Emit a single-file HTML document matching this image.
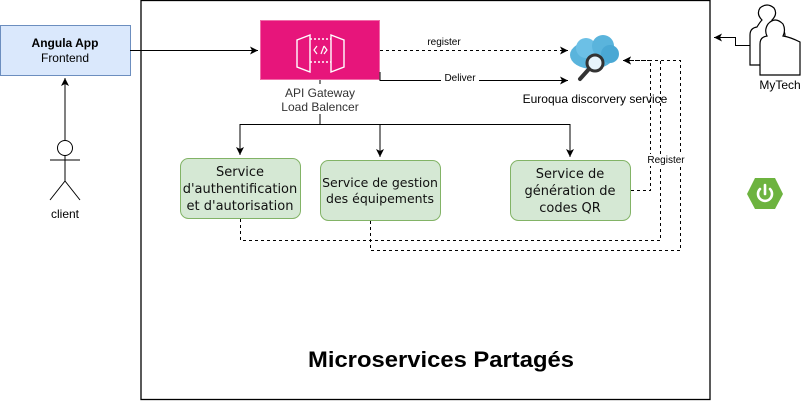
<!DOCTYPE html>
<html><head><meta charset="utf-8"><style>
html,body{margin:0;padding:0;background:#fff;}
svg{display:block;}
.s{font-family:"Liberation Sans",sans-serif;}
.u{font-family:"DejaVu Sans","Liberation Sans",sans-serif;}
</style></head><body>
<svg width="811" height="401" viewBox="0 0 811 401" xmlns="http://www.w3.org/2000/svg">
<defs>
<marker id="a" markerWidth="10" markerHeight="10" refX="9" refY="5" orient="auto" markerUnits="userSpaceOnUse"><path d="M1,1 L9,5 L1,9 L3,5 Z" fill="#000"/></marker>
</defs>
<rect x="141" y="0.5" width="569" height="399" fill="#fff" stroke="#000" stroke-width="1.3"/>
<!-- Angula -->
<rect x="0.5" y="25.5" width="130" height="50" fill="#dae8fc" stroke="#6c8ebf"/>
<text x="65" y="47" text-anchor="middle" class="s" font-size="12" font-weight="bold">Angula App</text>
<text x="65" y="62" text-anchor="middle" class="s" font-size="12">Frontend</text>
<line x1="130" y1="50.5" x2="258" y2="50.5" stroke="#000" marker-end="url(#a)"/>
<!-- client -->
<line x1="65" y1="140" x2="65" y2="78" stroke="#000" marker-end="url(#a)"/>
<circle cx="65" cy="148" r="7.5" fill="#fff" stroke="#000"/>
<line x1="65" y1="155" x2="65" y2="181" stroke="#000"/>
<line x1="50" y1="160" x2="80" y2="160" stroke="#000"/>
<path d="M50,200 L65,181 L80,200" fill="none" stroke="#000"/>
<text x="65" y="218" text-anchor="middle" class="s" font-size="12">client</text>
<!-- Gateway -->
<rect x="260.5" y="20.5" width="119" height="59" fill="#e7157b" stroke="#f06ba8"/>
<g fill="none" stroke="#fff" stroke-width="1.4">
<path d="M297,40 L310,35 L310,72 L297,67 Z"/>
<path d="M344,40 L331,35 L331,72 L344,67 Z"/>
<path d="M310,39 L331,39 M310,62 L331,62" stroke-dasharray="2,2"/>
<path d="M317,46 L314,50 L317,54 M324,46 L321,54 M324,46 L327,50 L324,54" stroke-width="1.2"/>
</g>
<text x="320" y="97" text-anchor="middle" class="s" font-size="12" fill="#333">API Gateway</text>
<text x="320" y="111" text-anchor="middle" class="s" font-size="12" fill="#333">Load Balencer</text>
<line x1="320" y1="80" x2="320" y2="84" stroke="#000"/>
<line x1="320" y1="114" x2="320" y2="124" stroke="#000"/>
<!-- register / deliver -->
<line x1="380" y1="50.5" x2="568" y2="50.5" stroke="#000" stroke-dasharray="3,3" marker-end="url(#a)"/>
<text x="444" y="45" text-anchor="middle" class="s" font-size="10">register</text>
<path d="M380,72 L380,80.5 L568,80.5" fill="none" stroke="#000" marker-end="url(#a)"/>
<rect x="441" y="72" width="38" height="12" fill="#fff"/>
<text x="460" y="81" text-anchor="middle" class="s" font-size="10">Deliver</text>
<!-- cloud -->
<g>
<ellipse cx="592" cy="55" rx="22" ry="14" fill="#5ab4dc"/>
<circle cx="586" cy="48" r="10" fill="#6cc0e6"/>
<circle cx="603" cy="46" r="11" fill="#5ab4dc"/>
<circle cx="610" cy="54" r="9" fill="#4aa8d4"/>
<circle cx="595" cy="63" r="8" fill="#e8f4fb" stroke="#333" stroke-width="3"/>
<line x1="589" y1="69" x2="580" y2="79" stroke="#333" stroke-width="4" stroke-linecap="round"/>
</g>
<text x="595" y="103" text-anchor="middle" class="s" font-size="12">Euroqua discorvery service</text>
<!-- distribution -->
<path d="M320,124.5 L240,124.5 L240,155" fill="none" stroke="#000" marker-end="url(#a)"/>
<path d="M320,124.5 L570,124.5 L570,157" fill="none" stroke="#000" marker-end="url(#a)"/>
<line x1="380" y1="124" x2="380" y2="157" stroke="#000" marker-end="url(#a)"/>
<!-- services -->
<g class="u" font-size="13" text-anchor="middle" fill="#111">
<rect x="180.5" y="158.5" width="120" height="60" rx="8" fill="#d5e8d4" stroke="#82b366"/>
<text x="240" y="176">Service</text>
<text x="240" y="193">d'authentification</text>
<text x="240" y="210">et d'autorisation</text>
<rect x="320.5" y="160.5" width="120" height="60" rx="8" fill="#d5e8d4" stroke="#82b366"/>
<text x="380" y="187" font-size="12.5">Service de gestion</text>
<text x="380" y="203" font-size="12.5">des équipements</text>
<rect x="510.5" y="160.5" width="120" height="60" rx="8" fill="#d5e8d4" stroke="#82b366"/>
<text x="570" y="178">Service de</text>
<text x="570" y="195">génération de</text>
<text x="570" y="212">codes QR</text>
</g>
<!-- dashed registers -->
<g fill="none" stroke="#000" stroke-dasharray="3,3">
<path d="M631,190.5 L650.5,190.5 L650.5,60.5 L623,60.5" marker-end="url(#a)"/>
<path d="M240.5,219 L240.5,240.5 L660.5,240.5 L660.5,60.5 L623,60.5"/>
<path d="M370.5,221 L370.5,250.5 L680.5,250.5 L680.5,60.5 L623,60.5" marker-end="url(#a)"/>
</g>
<rect x="646" y="154" width="40" height="12" fill="#fff"/>
<text x="666" y="163" text-anchor="middle" class="s" font-size="10">Register</text>
<!-- MyTech -->
<g fill="#fff" stroke="#000" stroke-width="1.2">
<path d="M750,65 L750,35 Q750,28 757,27 Q760,22 762,20 Q756,14 760,8 Q767,2 774,8 Q778,14 772,20 Q775,24 778,27 Q785,29 785,36 L785,65 Z"/>
<path d="M760,75 L760,44 Q760,37 767,36 Q764,30 768,24 Q775,16 783,24 Q786,30 783,36 Q790,37 800,42 L800,75 Z"/>
</g>
<path d="M750,45.5 L735.5,45.5 L735.5,37.5 L714,37.5" fill="none" stroke="#000" marker-end="url(#a)"/>
<text x="780" y="89" text-anchor="middle" class="s" font-size="12">MyTech</text>
<!-- spring -->
<polygon points="755,178 775,178 783,194 775,209 755,209 747,194" fill="#6db33f"/>
<path d="M760,189 A7,7 0 1 0 770,189" fill="none" stroke="#fff" stroke-width="2.6" stroke-linecap="round"/>
<line x1="765" y1="185" x2="765" y2="194" stroke="#fff" stroke-width="2.6" stroke-linecap="round"/>
<!-- title -->
<text x="441" y="367" text-anchor="middle" class="s" font-size="22" font-weight="bold" textLength="266" lengthAdjust="spacingAndGlyphs">Microservices Partagés</text>
</svg>
</body></html>
